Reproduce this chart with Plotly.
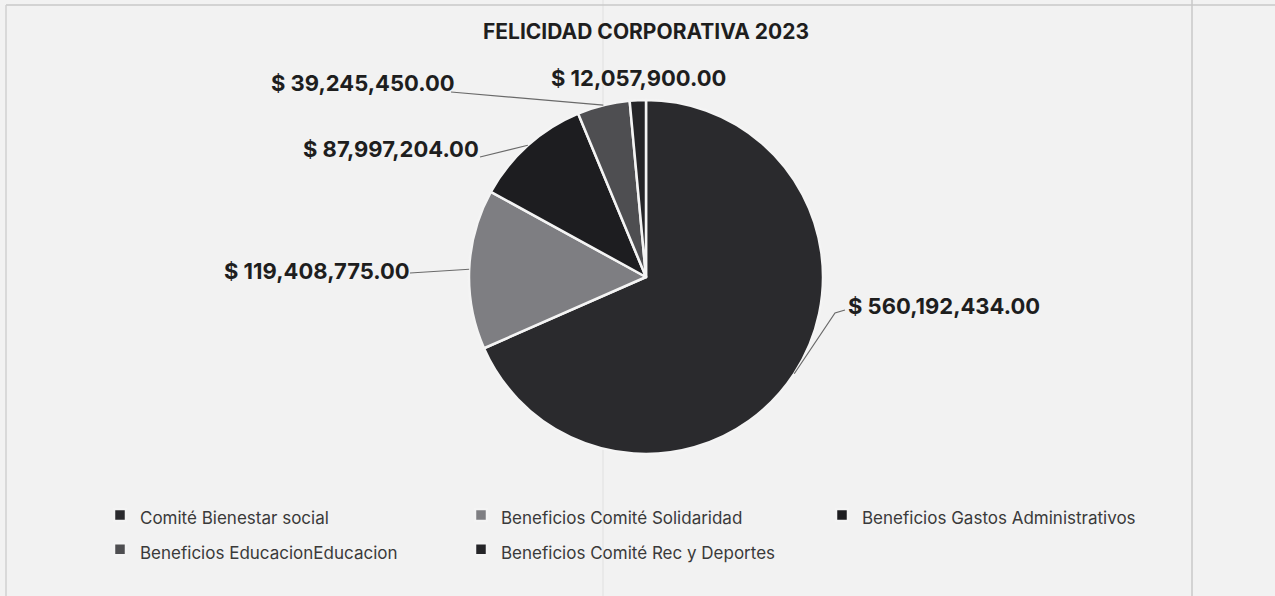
import math
import plotly.graph_objects as go

# ---- data ----
categories = [
    "Comité Bienestar social",
    "Beneficios Comité Solidaridad",
    "Beneficios Gastos Administrativos",
    "Beneficios EducacionEducacion",
    "Beneficios Comité Rec y Deportes",
]
values = [560192434, 119408775, 87997204, 39245450, 12057900]
title_text = "FELICIDAD CORPORATIVA 2023"

# ---- style ----
slice_colors = ["#2a2a2d", "#7e7e82", "#1d1d20", "#4e4e51", "#252528"]
W, H = 1275, 596
CX, CY, R = 646, 277, 177           # pie centre / radius in px
# label centre (px) and leader-line attach points (px) per slice
label_xy = [(944, 306), (317, 271), (391, 149), (363, 83), (638, 78)]
leader_pts = [[(835, 313), (845, 310)], [(410, 273)], [(480, 157)], [(451, 92)], []]

FONT = "Inter"

def px(x):
    return x / W

def py(y):
    return 1 - y / H

legend_labels = ['<span style="font-size:17px">{}</span>'.format(c) for c in categories]

fig = go.Figure()
fig.add_trace(go.Pie(
    labels=legend_labels,
    values=values,
    sort=False,
    direction="clockwise",
    rotation=0,
    marker=dict(colors=slice_colors, line=dict(color="#f4f4f4", width=2.5)),
    textinfo="none",
    hoverinfo="label+value+percent",
    domain=dict(x=[px(CX - R), px(CX + R)], y=[py(CY + R), py(CY - R)]),
))

# labels and leader lines, attached at each slice's mid-angle on the rim
total = sum(values)
cum = 0.0
annotations = []
shapes = []
for v, (lx, ly), pts in zip(values, label_xy, leader_pts):
    mid = (cum + v / 2) / total * 2 * math.pi
    cum += v
    ex = CX + R * math.sin(mid)
    ey = CY - R * math.cos(mid)
    annotations.append(dict(
        x=px(lx), y=py(ly), xref="paper", yref="paper",
        text="$ {:,.2f}".format(v), showarrow=False,
        font=dict(family=FONT, size=22, color="#1e1e1e", weight="bold"),
        xanchor="center", yanchor="middle",
    ))
    if pts:
        path = "M {} {}".format(px(ex), py(ey))
        for (qx, qy) in pts:
            path += " L {} {}".format(px(qx), py(qy))
        shapes.append(dict(type="path", xref="paper", yref="paper", path=path,
                           line=dict(color="#6a6a6a", width=1.2)))

# faint scan frame / fold lines
shapes += [
    dict(type="line", xref="paper", yref="paper", x0=px(6), x1=px(1275), y0=py(5), y1=py(5),
         line=dict(color="#c8c8c8", width=1.5)),
    dict(type="line", xref="paper", yref="paper", x0=px(6), x1=px(6), y0=py(5), y1=0,
         line=dict(color="#d0d0d0", width=1.5)),
    dict(type="line", xref="paper", yref="paper", x0=px(1192), x1=px(1192), y0=1, y1=0,
         line=dict(color="#c8c8c8", width=1.5)),
    dict(type="line", xref="paper", yref="paper", x0=px(603), x1=px(603), y0=1, y1=0,
         layer="below", line=dict(color="#e0e0e0", width=1)),
]

fig.update_layout(
    width=W, height=H,
    margin=dict(l=0, r=0, t=0, b=0),
    paper_bgcolor="#f2f2f2",
    plot_bgcolor="#f2f2f2",
    title=dict(text=title_text, x=px(CX), xanchor="center", y=py(32), yanchor="middle",
               font=dict(family=FONT, size=21, color="#1e1e1e", weight="bold")),
    showlegend=True,
    legend=dict(
        orientation="h", x=px(100), xanchor="left", y=py(493), yanchor="top",
        entrywidth=316, entrywidthmode="pixels",
        font=dict(family=FONT, size=24, color="#3a3a3a"),
        bgcolor="rgba(0,0,0,0)", traceorder="normal",
    ),
    annotations=annotations,
    shapes=shapes,
)

fig.write_html("out.html", config={"displayModeBar": False},
               post_script="document.body.style.margin='0';")
